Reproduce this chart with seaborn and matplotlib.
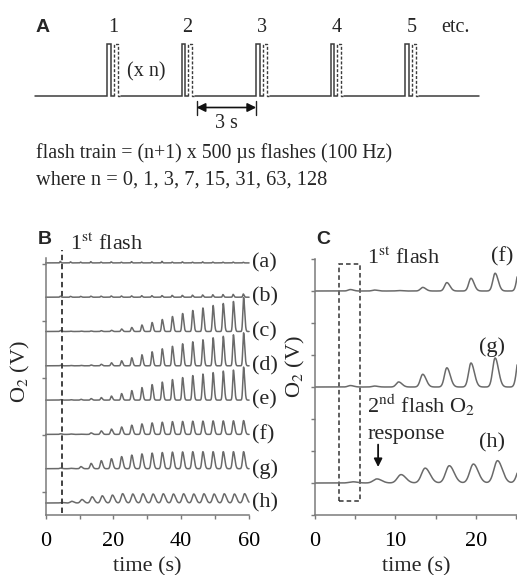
import numpy as np
import pandas as pd
import matplotlib
matplotlib.use("Agg")
import matplotlib.pyplot as plt
from matplotlib.patches import Rectangle
import seaborn as sns

# ---------------- data ----------------
flash_times = [4, 7, 10, 13, 16, 19, 22, 25, 28, 31, 34, 37, 40, 43, 46, 49, 52, 55, 58]
trace_labels = ["(a)", "(b)", "(c)", "(d)", "(e)", "(f)", "(g)", "(h)"]
n_values = [0, 1, 3, 7, 15, 31, 63, 128]

# O2 peak amplitude after each flash train (arbitrary units)
amp_a = [1.5, 1.0, 0.8, 1.2, 0.8, 1.0, 0.7, 1.2, 0.8, 1.0, 1.5, 0.8, 1.0, 0.7, 1.0, 0.8, 0.7, 0.8, 0.6]
amp_b = [1.0, 0.8, 0.8, 1.0, 1.0, 1.2, 1.2, 1.3, 1.5, 1.5, 1.6, 1.8, 1.8, 2.0, 2.2, 2.4, 2.6, 2.8, 3.2]
amp_c = [1.0, 0.3, 0.4, 0.5, 0.8, 1.2, 2.5, 4.0, 6.5, 9.0, 12.0, 15.0, 18.0, 21.0, 23.5, 26.0, 28.0, 30.0, 34.0]
amp_d = [0.5, 0.3, 0.4, 0.8, 1.5, 3.0, 5.0, 8.0, 11.0, 14.0, 17.0, 19.5, 22.0, 24.0, 26.0, 28.0, 29.5, 31.0, 33.0]
amp_e = [0.5, 0.4, 0.8, 1.5, 2.5, 4.0, 6.5, 9.5, 12.5, 15.5, 18.0, 20.5, 22.5, 24.5, 26.0, 27.5, 29.0, 30.0, 33.0]
amp_f = [0.6, 0.4, 0.2, 1.5, 3.5, 5.3, 7.4, 9.2, 10.5, 11.5, 12.2, 12.8, 13.0, 13.2, 13.3, 13.5, 13.5, 13.6, 13.8]
amp_g = [0.6, 0.4, 2.1, 5.3, 8.0, 10.0, 12.1, 13.6, 14.8, 15.6, 16.2, 16.6, 16.8, 17.0, 17.0, 17.0, 17.0, 17.0, 17.0]
amp_h = [0.5, 1.7, 3.5, 6.2, 7.2, 7.9, 9.3, 9.0, 9.2, 9.0, 9.2, 9.0, 9.2, 9.0, 9.2, 9.0, 9.2, 9.0, 9.3]
amps = [amp_a, amp_b, amp_c, amp_d, amp_e, amp_f, amp_g, amp_h]

# peak delay after flash and rise / decay widths (s)
peak_delay = [0.3, 0.3, 0.4, 0.4, 0.4, 0.4, 0.4, 0.7]
rise_w = [0.12, 0.15, 0.22, 0.22, 0.22, 0.28, 0.30, 0.45]
fall_w = [0.18, 0.25, 0.32, 0.32, 0.32, 0.38, 0.42, 0.60]

first_flash_B = 4.7
zoom_traces = ["(f)", "(g)", "(h)"]

# ---------------- style ----------------
sns.set_theme(style="ticks")
plt.rcParams["font.family"] = ["Liberation Serif", "DejaVu Serif"]
plt.rcParams["mathtext.fontset"] = "stix"

W, H = 517, 575
fig = plt.figure(figsize=(W / 100, H / 100), dpi=100)
fig.patch.set_facecolor("white")


def fx(px):
    return px / W


def fy(py):
    return 1 - py / H


def wave(tgrid, a_list, delay, sr, sf):
    y = np.zeros_like(tgrid)
    for ft, a in zip(flash_times, a_list):
        tp = ft + delay
        s = np.where(tgrid < tp, sr, sf)
        y = y + a * np.exp(-0.5 * ((tgrid - tp) / s) ** 2)
    return y


FS = 16
FSA = 14.5
TRACE_C = "#6a6a6a"
SPINE_C = "#7a7a7a"

# ---------------- panel A (schematic) ----------------
axA = fig.add_axes([0, fy(200), 1, 200 / H])
axA.set_xlim(0, W)
axA.set_ylim(200, 0)
axA.axis("off")
base_y, top_y = 96, 44
group_x = [107 + 74.6 * k for k in range(5)]
lk = dict(color="#3c3c3c", lw=1.1, solid_joinstyle="miter")
dk = dict(color="#3c3c3c", lw=1.0, ls=(0, (2.2, 1.3)))
x_prev = 35
for k, gx in enumerate(group_x):
    axA.plot([x_prev, gx, gx, gx + 3.5, gx + 3.5, gx + 6.5],
             [base_y, base_y, top_y, top_y, base_y, base_y], **lk)
    axA.plot([gx + 6.5, gx + 6.5, gx + 10.5, gx + 10.5, gx + 13.5],
             [base_y, top_y, top_y, base_y, base_y], **dk)
    axA.text(gx + 6, 28, str(k + 1), fontsize=FSA, ha="center", va="center")
    x_prev = gx + 13.5
axA.plot([x_prev, 479], [base_y, base_y], **lk)
axA.text(456, 28, "etc.", fontsize=FSA, ha="center", va="center")
axA.text(43, 28, "A", fontsize=14, fontweight="bold", family="Liberation Sans",
         ha="center", va="center")
axA.text(146, 72, "(x n)", fontsize=FSA, ha="center", va="center")
x1, x2 = group_x[1] + 15, group_x[2]
axA.plot([x1, x1], [101, 115], color="#222", lw=1.0)
axA.plot([x2, x2], [101, 115], color="#222", lw=1.0)
axA.annotate("", xy=(x1, 107.5), xytext=(x2, 107.5),
             arrowprops=dict(arrowstyle="<|-|>", color="#111", lw=1.2,
                             mutation_scale=13, shrinkA=0, shrinkB=0))
axA.text((x1 + x2) / 2, 123, "3 s", fontsize=FSA, ha="center", va="center")
axA.text(36, 153, "flash train = (n+1) x 500 \u00b5s flashes (100 Hz)",
         fontsize=14.3, ha="left", va="center")
axA.text(36, 180, "where n = " + ", ".join(str(v) for v in n_values),
         fontsize=14.7, ha="left", va="center")

# ---------------- panel B ----------------
axB = fig.add_axes([fx(45.7), fy(515), (249 - 45.7) / W, (515 - 258) / H])
rows = []
for i, lab in enumerate(trace_labels):
    t0 = -1.3 if i == 0 else 0.0
    tg = np.linspace(t0, 60.4, 3000)
    off = 12 + 34.3 * (7 - i)
    y = off + wave(tg, amps[i], peak_delay[i], rise_w[i], fall_w[i])
    rows.append(pd.DataFrame({"time": tg, "O2": y, "trace": lab}))
dfB = pd.concat(rows, ignore_index=True)
sns.lineplot(data=dfB, x="time", y="O2", units="trace", estimator=None,
             color=TRACE_C, lw=1.1, ax=axB, legend=False)
for ln in axB.lines:
    ln.set_clip_on(False)
for i, lab in enumerate(trace_labels):
    off = 12 + 34.3 * (7 - i)
    axB.text(60.9, off, lab, fontsize=FS, ha="left", va="center")
axB.plot([first_flash_B, first_flash_B], [2, 265], color="#333", lw=1.3,
         ls=(0, (3, 2)), clip_on=False)
axB.text(7.3, 271, r"1$^{\mathrm{st}}$ flash", fontsize=FS, ha="left", va="center")
axB.set_xlim(0, 60)
axB.set_ylim(0, 257)
axB.set_xticks(range(0, 61, 10))
axB.set_xticklabels(["0", "", "20", "", "40", "", "60"])
axB.set_yticks([23, 80, 137, 194, 251])
axB.set_yticklabels([])
axB.set_xlabel("time (s)", fontsize=FS, labelpad=4)
axB.set_ylabel("O$_2$ (V)", fontsize=FS)
axB.yaxis.set_label_coords(-0.067, 0.556)

# ---------------- panel C ----------------
axC = fig.add_axes([fx(315), fy(515), (517 - 315) / W, (515 - 259) / H])
c_scale = 0.075
c_offset = {"(f)": 7, "(g)": 4, "(h)": 1}
rows = []
for lab in zoom_traces:
    i = trace_labels.index(lab)
    tg = np.linspace(0, 25.3, 2000)
    y = c_offset[lab] + c_scale * wave(tg, amps[i], peak_delay[i], rise_w[i], fall_w[i])
    rows.append(pd.DataFrame({"time": tg, "O2": y, "trace": lab}))
dfC = pd.concat(rows, ignore_index=True)
sns.lineplot(data=dfC, x="time", y="O2", units="trace", estimator=None,
             color=TRACE_C, lw=1.1, ax=axC, legend=False)
axC.add_patch(Rectangle((3.0, 0.44), 2.6, 7.4, fill=False, ec="#333", lw=1.1,
                        ls=(0, (3, 2))))
axC.text(6.5, 8.03, r"1$^{\mathrm{st}}$ flash", fontsize=FS, ha="left", va="center")
axC.text(21.9, 8.06, "(f)", fontsize=FS, ha="left", va="center")
axC.text(20.4, 5.25, "(g)", fontsize=FS, ha="left", va="center")
axC.text(20.4, 2.25, "(h)", fontsize=FS, ha="left", va="center")
axC.text(6.5, 3.44, r"2$^{\mathrm{nd}}$ flash O$_2$", fontsize=FS, ha="left", va="center")
axC.text(6.5, 2.5, "response", fontsize=FS, ha="left", va="center")
axC.annotate("", xy=(7.85, 1.5), xytext=(7.85, 2.2),
             arrowprops=dict(arrowstyle="-|>", color="#111", lw=1.3,
                             mutation_scale=12, shrinkA=0, shrinkB=0))
axC.set_xlim(0, 202 / 8.04)
axC.set_ylim(0, 8)
axC.set_xticks(range(0, 26, 5))
axC.set_xticklabels(["0", "", "10", "", "20", ""])
axC.set_yticks(range(0, 9))
axC.set_yticklabels([])
axC.set_xlabel("time (s)", fontsize=FS, labelpad=4)
axC.set_ylabel("O$_2$ (V)", fontsize=FS)
axC.yaxis.set_label_coords(-0.04, 0.58)

for ax in (axB, axC):
    sns.despine(ax=ax)
    for s in ("left", "bottom"):
        ax.spines[s].set_color(SPINE_C)
        ax.spines[s].set_linewidth(1.1)
    ax.tick_params(axis="both", direction="out", length=3, width=1.0,
                   color=SPINE_C, labelsize=FS, pad=9.5, labelcolor="black")
    ax.set_facecolor("none")

fig.text(fx(45), fy(240), "B", fontsize=14, fontweight="bold", family="Liberation Sans",
         ha="center", va="center")
fig.text(fx(323), fy(240), "C", fontsize=14, fontweight="bold", family="Liberation Sans",
         ha="center", va="center")

fig.savefig("out.png", dpi=100, facecolor="white")
